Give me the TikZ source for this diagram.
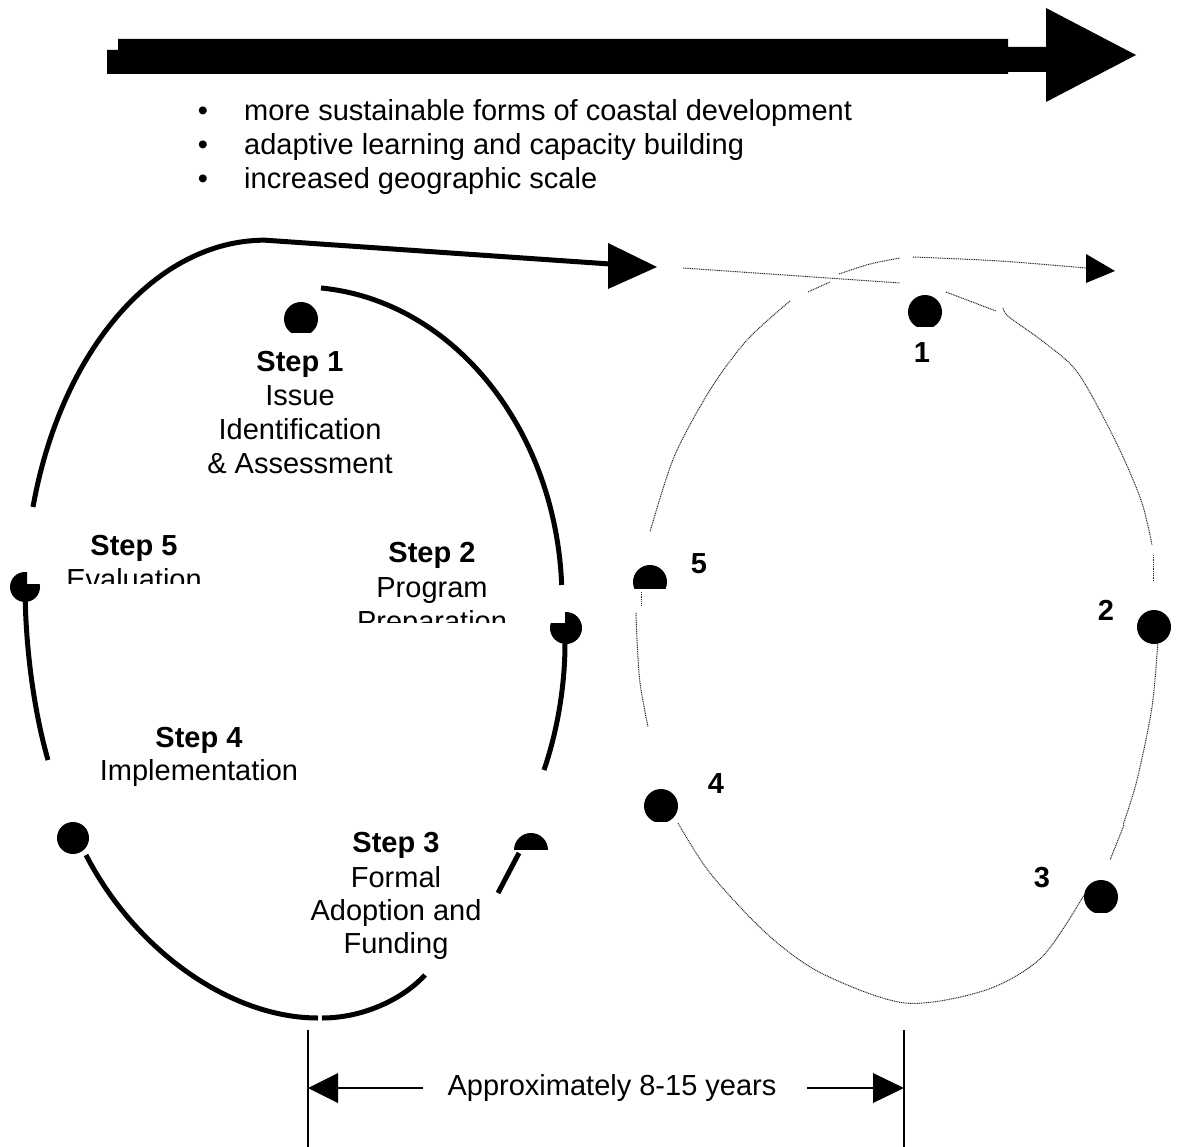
\documentclass[tikz,border=0pt]{standalone}
\usepackage{fontspec}
\setmainfont{Liberation Sans}
\begin{document}
\begin{tikzpicture}[x=1pt,y=-1pt,
  txt/.style={font=\fontsize{29}{34}\selectfont, inner sep=0pt, anchor=base},
  btxt/.style={font=\fontsize{29}{34}\selectfont\bfseries, inner sep=0pt, anchor=base},
  thickline/.style={line width=5pt, line cap=butt},
  dotline/.style={line width=1pt, dash pattern=on 1pt off 0.8pt, black!85},
  dimline/.style={line width=2pt}]
\useasboundingbox (0,0) rectangle (1177,1147);

% ---------- top block arrow ----------
\fill (118,39) -- (1008,39) -- (1008,47) -- (1046,47) -- (1046,8) -- (1136,55)
  -- (1046,102) -- (1046,72) -- (1008,72) -- (1008,74) -- (107,74) -- (107,50) -- (118,50) -- cycle;

% ---------- bullets ----------
\node[txt] (b1) at (203,121) {\textbullet};
\node[txt] (b2) at (203,155) {\textbullet};
\node[txt] (b3) at (203,189) {\textbullet};
\node[txt, anchor=base west] (t1) at (244,121) {more sustainable forms of coastal development};
\node[txt, anchor=base west] (t2) at (244,155) {adaptive learning and capacity building};
\node[txt, anchor=base west] (t3) at (244,189) {increased geographic scale};

% ---------- left cycle (solid) ----------
\coordinate (arrowback) at (610,264);
\draw[thickline] (33,507) arc[start angle=-165, end angle=-90, x radius=240, y radius=360] -- (arrowback);
\fill (608,243) -- (657,267) -- (608,289) -- cycle;
\draw[thickline] (321,288) arc[start angle=-85.4, end angle=-2.75, x radius=262, y radius=313];
\draw[thickline] (25,584) .. controls (25,650) and (35,715) .. (48,760);
\draw[thickline] (565,643) .. controls (565,690) and (556,735) .. (544,770);
\draw[thickline] (498,893) -- (519,853);
\draw[thickline] (86,855) .. controls (135,950) and (230,1018) .. (318,1018);
\draw[thickline] (322,1018) .. controls (362,1018) and (402,1000) .. (425,975);

% dots (left)
\begin{scope}\clip (270,290) rectangle (330,332); \fill (301,319) circle (17); \end{scope}
\begin{scope}\clip (0,560) -- (27,560) -- (27,584) -- (50,584) -- (50,615) -- (0,615) -- cycle; \fill (25,587) circle (15); \end{scope}
\begin{scope}\clip (565,600) -- (600,600) -- (600,660) -- (540,660) -- (540,623) -- (565,623) -- cycle; \fill (566,628) circle (16); \end{scope}
\begin{scope}\clip (50,815) rectangle (100,853); \fill (73,838) circle (16); \end{scope}
\begin{scope}\clip (505,825) rectangle (560,849); \fill (531,850) circle (17); \end{scope}

% step texts
\node[btxt] (s1) at (300,371) {Step 1};
\node[txt] (s1a) at (300,405) {Issue};
\node[txt] (s1b) at (300,439) {Identification};
\node[txt] (s1c) at (300,473) {\& Assessment};

\node[btxt] (s5) at (134,555) {Step 5};
\begin{scope}\clip (40,560) rectangle (240,583);
\node[txt] (s5a) at (134,589) {Evaluation};
\end{scope}

\node[btxt] (s2) at (432,562) {Step 2};
\node[txt] (s2a) at (432,597) {Program};
\begin{scope}\clip (340,600) rectangle (540,622);
\node[txt] (s2b) at (432,631) {Preparation};
\end{scope}

\node[btxt] (s4) at (199,747) {Step 4};
\node[txt] (s4a) at (199,780) {Implementation};

\node[btxt] (s3) at (396,852) {Step 3};
\node[txt] (s3a) at (396,887) {Formal};
\node[txt] (s3b) at (396,920) {Adoption and};
\node[txt] (s3c) at (396,953) {Funding};

% ---------- right cycle (dotted) ----------
\draw[dotline] (683,268) -- (900,283);
\draw[dotline] (808,292) -- (830,282);
\draw[dotline] plot[smooth] coordinates {(839,274) (870,264) (900,258)};
\draw[dotline] plot[smooth] coordinates {(913,257) (1000,261) (1086,268)};
\fill (1086,254) -- (1115,271) -- (1086,283) -- cycle;
\draw[dotline] (946,292) -- (996,311);
\draw[dotline] plot[smooth] coordinates {(1003,308) (1009,317) (1045,343) (1078,373) (1115,440) (1141,500) (1152,545)};
\draw[dotline] (1153,555) -- (1153,582);
\draw[dotline] plot[smooth] coordinates {(790,301) (747,340) (710,390) (674,457) (650,532)};
\draw[dotline] (641,592) -- (641,605);
\draw[dotline] plot[smooth] coordinates {(636,613) (637,640) (640,683) (648,727)};
\draw[dotline] plot[smooth] coordinates {(678,823) (710,873) (766,933) (821,973) (905,1003) (986,990) (1042,957) (1084,895)};
\draw[dotline] plot[smooth] coordinates {(1158,640) (1152,707) (1137,780) (1123,825)};
\draw[dotline] (1124,825) -- (1110,860);

% dots (right)
\begin{scope}\clip (900,290) rectangle (950,327); \fill (925,312) circle (17); \end{scope}
\begin{scope}\clip (625,560) rectangle (675,588); \fill (650,582) circle (17); \end{scope}
\fill (1154,627) circle (17);
\begin{scope}\clip (635,780) rectangle (690,821); \fill (661,806) circle (17); \end{scope}
\begin{scope}\clip (1075,870) rectangle (1130,912); \fill (1101,897) circle (17); \end{scope}

\node[btxt] (n1) at (922,362) {1};
\node[btxt] (n5) at (699,573) {5};
\node[btxt] (n2) at (1106,620) {2};
\node[btxt] (n4) at (716,793) {4};
\node[btxt] (n3) at (1042,887) {3};

% ---------- dimension ----------
\coordinate (vl1) at (308,1030); \coordinate (vl2) at (308,1147);
\coordinate (vr1) at (904,1030); \coordinate (vr2) at (904,1147);
\draw[dimline] (vl1) -- (vl2);
\draw[dimline] (vr1) -- (vr2);
\node[txt] (dim) at (612,1095) {Approximately 8-15 years};
\coordinate (al) at (308,1088); \coordinate (ar) at (904,1088);
\draw[dimline] (338,1088) -- (423,1088);
\draw[dimline] (807,1088) -- (873,1088);
\fill (al) -- (338,1073) -- (338,1103) -- cycle;
\fill (ar) -- (873,1073) -- (873,1103) -- cycle;
\end{tikzpicture}
\end{document}
